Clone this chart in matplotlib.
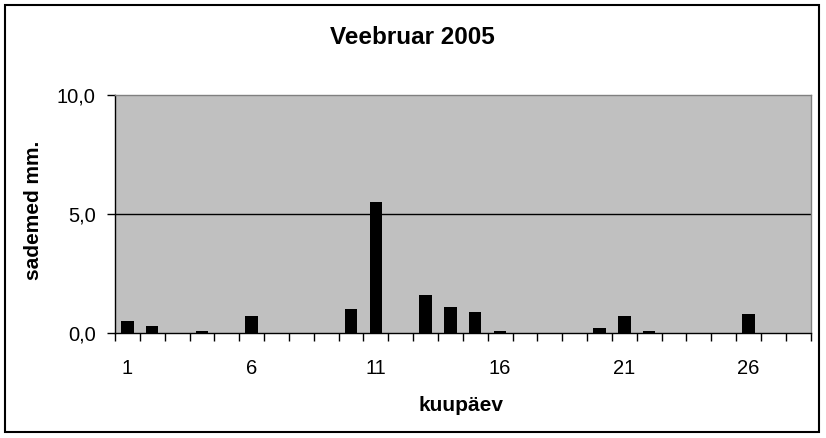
import numpy as np
import matplotlib.pyplot as plt
from matplotlib.patches import Rectangle
from matplotlib.ticker import FixedLocator, FuncFormatter

plt.rcParams['font.family'] = ['Liberation Sans', 'DejaVu Sans']

# päevased sademed, veebruar 2005
days = list(range(1, 29))
rain = [0.5, 0.3, 0.0, 0.1, 0.0, 0.7, 0.0, 0.0, 0.0, 1.0,
        5.5, 0.0, 1.6, 1.1, 0.9, 0.1, 0.0, 0.0, 0.0, 0.2,
        0.7, 0.1, 0.0, 0.0, 0.0, 0.8, 0.0, 0.0]
day_labels = [1, 6, 11, 16, 21, 26]
y_ticks = [0, 5, 10]

fig = plt.figure(figsize=(8.26, 4.38), dpi=100)
ax = fig.add_axes([115 / 826, 105 / 438, 695.7 / 826, 238 / 438])
ax.set_facecolor('#c0c0c0')

ax.axhline(5, color='black', lw=1, zorder=1)
ax.bar(days, rain, width=0.5, color='black', zorder=2)

ax.set_xlim(0.5, 28.5)
ax.set_ylim(0, 10)

ax.xaxis.set_major_locator(FixedLocator(day_labels))
ax.xaxis.set_minor_locator(FixedLocator(np.arange(0.5, 29, 1)))
ax.tick_params(axis='x', which='major', length=0, pad=19, labelsize=14.5)
ax.tick_params(axis='x', which='minor', length=6, width=1, direction='out')
ax.set_yticks(y_ticks)
ax.yaxis.set_major_formatter(FuncFormatter(lambda v, p: f'{v:.1f}'.replace('.', ',')))
ax.tick_params(axis='y', length=6, width=1, direction='out', pad=8, labelsize=14.5)

for s in ['left', 'bottom']:
    ax.spines[s].set_color('black')
    ax.spines[s].set_linewidth(1)
for s in ['top', 'right']:
    ax.spines[s].set_color('#808080')
    ax.spines[s].set_linewidth(1)

ax.set_xlabel('kuupäev', fontsize=15, fontweight='bold')
ax.xaxis.set_label_coords(0.498, -0.265)
ax.set_ylabel('sademed mm.', fontsize=15, fontweight='bold')
ax.yaxis.set_label_coords(-0.103, 0.515)

fig.text(412 / 826, 1 - 38 / 438, 'Veebruar 2005', fontsize=17.5,
         fontweight='bold', ha='center', va='center')

fig.patches.append(Rectangle((5 / 826, 6 / 438), 814 / 826, 427 / 438,
                             transform=fig.transFigure, fill=False,
                             edgecolor='black', lw=1.5))

fig.savefig('out.png', dpi=100)
